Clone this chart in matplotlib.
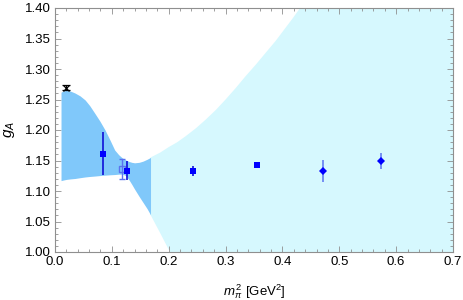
"""g_A vs m_pi^2: lattice points with chiral fit band (fit range dark, extrapolation light)."""

import matplotlib
matplotlib.use("Agg")
import matplotlib.pyplot as plt
import numpy as np

plt.rcParams["font.family"] = ["Liberation Sans", "DejaVu Sans"]
plt.rcParams["mathtext.fontset"] = "custom"
plt.rcParams["mathtext.rm"] = "Liberation Sans"
plt.rcParams["mathtext.it"] = "Liberation Sans:italic"

BAND_DARK = "#80c8fa"
BAND_LIGHT = "#d6f8fe"
BLUE = "#0000ff"
BLUE_ERR = "#1010d8"
BLUE_LIGHT = "#5a72f0"
FRAME = "#8f8f8f"

OUT = "out.png"

# band edges
band_x = [0.0106, 0.015, 0.02, 0.027, 0.035, 0.044, 0.053, 0.061, 0.07, 0.079,
          0.088, 0.097, 0.105, 0.112, 0.118, 0.124, 0.13, 0.135, 0.14, 0.148,
          0.155, 0.162, 0.168, 0.185, 0.2, 0.215, 0.23, 0.248, 0.265, 0.283,
          0.3, 0.318, 0.335, 0.353, 0.37, 0.388, 0.405, 0.418, 0.431, 0.5, 0.7]
band_hi = [1.262, 1.2642, 1.2648, 1.2638, 1.2607, 1.2560, 1.2492, 1.2400, 1.2274, 1.2145,
           1.2000, 1.1830, 1.1672, 1.1595, 1.1545, 1.1510, 1.1485, 1.1470, 1.1462, 1.1470,
           1.149, 1.152, 1.155, 1.163, 1.172, 1.180, 1.190, 1.203, 1.217, 1.233,
           1.250, 1.269, 1.288, 1.307, 1.326, 1.346, 1.367, 1.383, 1.400, 1.51, 1.90]
band_lo = [1.117, 1.118, 1.119, 1.1198, 1.1205, 1.1218, 1.123, 1.1238, 1.1245, 1.1253,
           1.126, 1.1266, 1.127, 1.1276, 1.1278, 1.1255, 1.1185, 1.111, 1.103, 1.091,
           1.081, 1.071, 1.061, 1.031, 1.004, 0.977, 0.95, 0.92, 0.89, 0.855,
           0.82, 0.79, 0.76, 0.73, 0.70, 0.665, 0.63, 0.605, 0.58, 0.45, 0.05]
fit_edge = 0.168

# physical point
phys_x, phys_y, phys_err = 0.0195, 1.2695, 0.0035

# filled squares
sq_x = [0.085, 0.126, 0.243, 0.355]
sq_y = [1.161, 1.133, 1.133, 1.143]
sq_err = [0.035, 0.0155, 0.0085, 0.003]

# open square
osq_x = [0.117]
osq_y = [1.136]
osq_err = [0.016]

# diamonds
dia_x = [0.472, 0.573]
dia_y = [1.133, 1.149]
dia_err = [0.0185, 0.013]

fig = plt.figure(figsize=(4.63, 3.0), dpi=100)
ax = fig.add_axes([55 / 463, 48 / 300, 398 / 463, 244 / 300])

bx = np.array(band_x)
ax.fill_between(bx, band_lo, band_hi, where=bx >= fit_edge, color=BAND_LIGHT,
                linewidth=0, zorder=1)
ax.fill_between(bx, band_lo, band_hi, where=bx <= fit_edge, color=BAND_DARK,
                linewidth=0, zorder=2)

ax.errorbar(phys_x, phys_y, yerr=phys_err, fmt="x", color="black", ms=4, mew=0.9,
            capsize=3, elinewidth=0.9, capthick=0.9, zorder=6)

ax.errorbar(osq_x, osq_y, yerr=osq_err, fmt="s", mfc="none", mec=BLUE_LIGHT, ms=5,
            mew=1.0, ecolor=BLUE_LIGHT, elinewidth=1.0, capsize=2.5, capthick=1.0,
            zorder=4)
ax.errorbar(sq_x, sq_y, yerr=sq_err, fmt="s", color=BLUE, ms=5, mew=0,
            ecolor=BLUE_ERR, elinewidth=1.2, capsize=2.5, capthick=1.0, zorder=5)
ax.errorbar(dia_x, dia_y, yerr=dia_err, fmt="D", color=BLUE, ms=4.2, mew=0,
            ecolor=BLUE_LIGHT, elinewidth=1.1, capsize=2.5, capthick=1.0, zorder=5)

ax.set_xlim(0, 0.7)
ax.set_ylim(1.0, 1.4)
ax.set_xticks(np.arange(0, 0.71, 0.1))
ax.set_xticks(np.arange(0, 0.71, 0.02), minor=True)
ax.set_yticks(np.arange(1.0, 1.401, 0.05))
ax.set_yticks(np.arange(1.0, 1.401, 0.01), minor=True)
ax.set_xticklabels([f"{v:.1f}" for v in np.arange(0, 0.71, 0.1)])
ax.set_yticklabels([f"{v:.2f}" for v in np.arange(1.0, 1.401, 0.05)])

ax.tick_params(which="both", direction="in", top=True, right=True, color=FRAME,
               labelsize=9.5, width=0.6)
ax.tick_params(which="major", length=4.5, pad=3)
ax.tick_params(which="minor", length=2.5)
for sp in ax.spines.values():
    sp.set_color(FRAME)
    sp.set_linewidth(0.8)
    sp.set_zorder(7)

ax.set_xlabel(r"$m_\pi^{\,2}$ [GeV$^2$]", fontsize=9.5)
ax.set_ylabel(r"$g_A$", fontsize=11)
ax.xaxis.set_label_coords(0.5, -0.125)
ax.yaxis.set_label_coords(-0.095, 0.5)

plt.savefig(OUT, dpi=100, facecolor="white")
plt.close()
print(f"Saved -> {OUT}")
